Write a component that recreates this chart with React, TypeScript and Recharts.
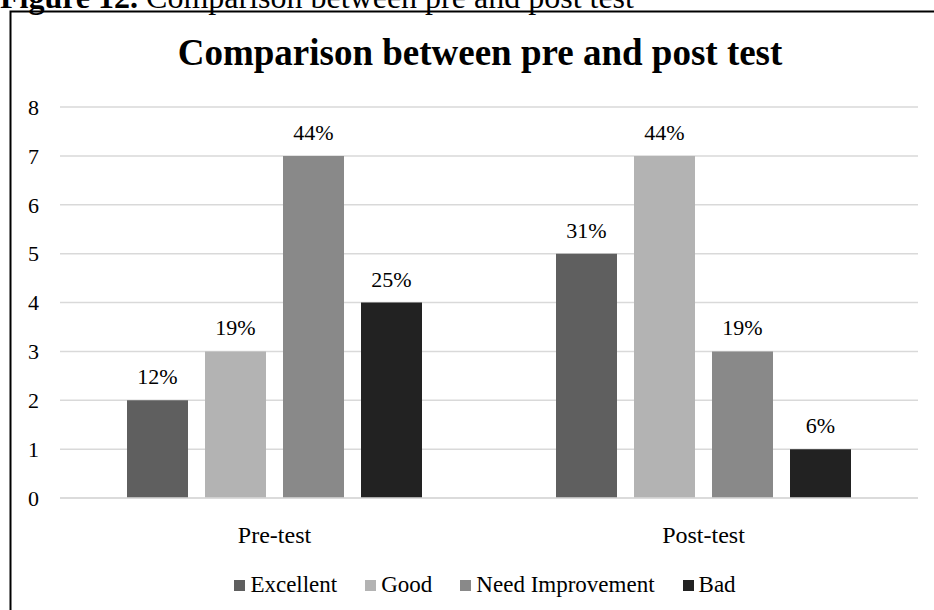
import React from 'react';
import { BarChart, Bar, XAxis, YAxis, CartesianGrid, Legend, LabelList } from 'recharts';

const categories = ['Pre-test', 'Post-test'];
const excellent = [2, 5];
const good = [3, 7];
const needImprovement = [7, 3];
const bad = [4, 1];
const excellentPct = ['12%', '31%'];
const goodPct = ['19%', '44%'];
const needPct = ['44%', '19%'];
const badPct = ['25%', '6%'];
const yTicks = [0, 1, 2, 3, 4, 5, 6, 7, 8];

const FONT = '"Liberation Serif", "Times New Roman", serif';

const series = [
  { key: 'excellent', name: 'Excellent', color: '#5f5f5f', pct: 'excellentPct' },
  { key: 'good', name: 'Good', color: '#b3b3b3', pct: 'goodPct' },
  { key: 'need', name: 'Need Improvement', color: '#898989', pct: 'needPct' },
  { key: 'bad', name: 'Bad', color: '#222222', pct: 'badPct' },
];

const data = categories.map((name, i) => ({
  name,
  excellent: excellent[i],
  good: good[i],
  need: needImprovement[i],
  bad: bad[i],
  excellentPct: excellentPct[i],
  goodPct: goodPct[i],
  needPct: needPct[i],
  badPct: badPct[i],
}));

const renderLegend = () => (
  <div
    style={{
      display: 'flex',
      justifyContent: 'center',
      alignItems: 'center',
      fontFamily: FONT,
      fontSize: 23,
      color: '#000',
    }}
  >
    {series.map((s, i) => (
      <div key={s.key} style={{ display: 'flex', alignItems: 'center', marginLeft: i === 0 ? 0 : 28 }}>
        <span style={{ width: 11, height: 11, background: s.color, display: 'inline-block', marginRight: 5 }} />
        <span>{s.name}</span>
      </div>
    ))}
  </div>
);

const App = () => {
  return (
    <div
      style={{
        position: 'fixed',
        left: 0,
        top: 0,
        width: 934,
        height: 610,
        overflow: 'hidden',
        background: '#fff',
        fontFamily: FONT,
      }}
    >
      <BarChart
        width={934}
        height={610}
        data={data}
        margin={{ top: 107, right: 16, bottom: 52, left: 0 }}
        barSize={61}
        barGap={17}
      >
        <CartesianGrid vertical={false} stroke="#d9d9d9" strokeWidth={1.5} />
        <XAxis
          dataKey="name"
          height={30}
          axisLine={{ stroke: '#d9d9d9', strokeWidth: 1.5 }}
          tickLine={false}
          tickMargin={22}
          tick={{ fill: '#000', fontSize: 24, fontFamily: FONT }}
        />
        <YAxis
          width={60}
          domain={[0, 8]}
          ticks={yTicks}
          axisLine={false}
          tickLine={false}
          tickMargin={15}
          tick={{ fill: '#000', fontSize: 22, fontFamily: FONT }}
        />
        <Legend
          verticalAlign="bottom"
          content={renderLegend}
          wrapperStyle={{ position: 'absolute', left: 56, width: 858, top: 572, height: 30 }}
        />
        {series.map(s => (
          <Bar key={s.key} dataKey={s.key} name={s.name} fill={s.color} isAnimationActive={false}>
            <LabelList
              dataKey={s.pct}
              position="top"
              offset={16}
              style={{ fill: '#000', fontSize: 22, fontFamily: FONT }}
            />
          </Bar>
        ))}
      </BarChart>
      <svg width={934} height={610} style={{ position: 'absolute', left: 0, top: 0, pointerEvents: 'none' }}>
        <rect x={10.5} y={11.5} width={1000} height={1000} fill="none" stroke="#000" strokeWidth={2} />
        <text x={0} y={8} fontFamily={FONT} fontSize={32} fill="#000">
          <tspan fontWeight="bold">Figure 12.</tspan>
          <tspan> Comparison between pre and post test</tspan>
        </text>
        <text x={480} y={65} textAnchor="middle" fontFamily={FONT} fontSize={37} fontWeight="bold" fill="#000">
          Comparison between pre and post test
        </text>
      </svg>
    </div>
  );
};

export default App;
